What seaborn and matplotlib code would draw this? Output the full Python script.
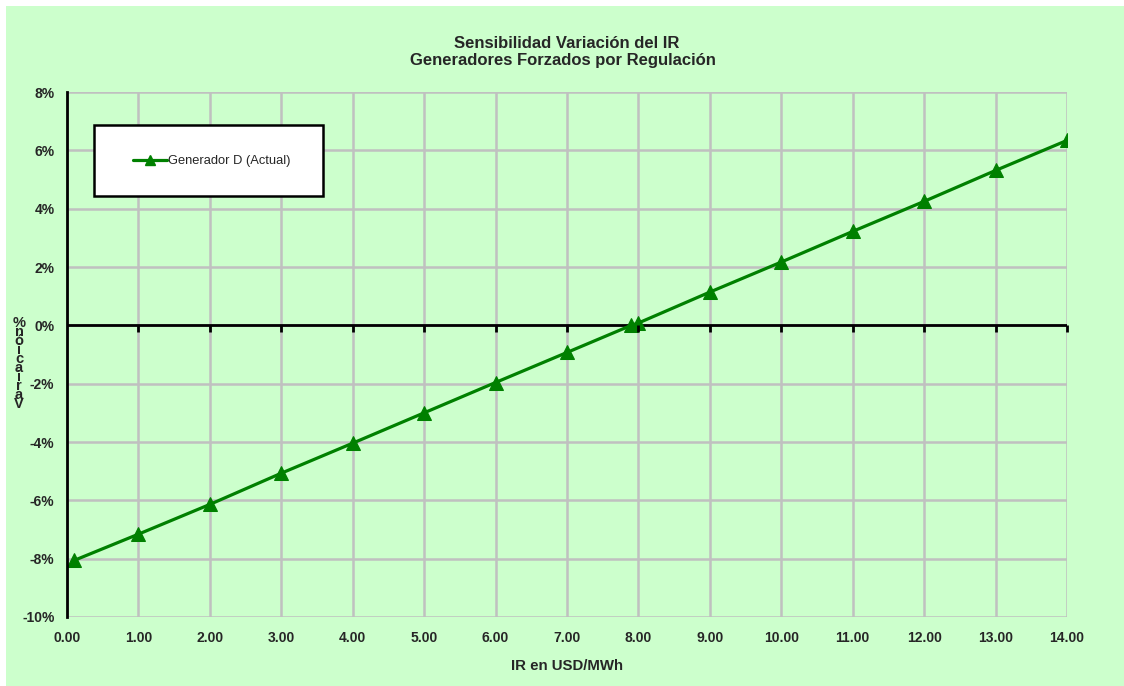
import matplotlib
matplotlib.use("Agg")
import matplotlib.pyplot as plt
import seaborn as sns
import pandas as pd
from matplotlib.patches import Rectangle
from matplotlib.ticker import FuncFormatter, MultipleLocator

sns.set_style("white")
plt.rcParams['font.family'] = ['Liberation Sans', 'DejaVu Sans']

# Data
ir_values = [0.1, 1, 2, 3, 4, 5, 6, 7, 7.9, 8.0, 9, 10, 11, 12, 13, 14]
variacion = [-0.0806, -0.0716, -0.0614, -0.0507, -0.0404, -0.0300, -0.0196, -0.0093,
             0.0000, 0.0008, 0.0114, 0.0217, 0.0322, 0.0425, 0.0531, 0.0634]
series_name = "Generador D (Actual)"
title_lines = ["Sensibilidad Variación del IR", "Generadores Forzados por Regulación"]
xlabel_text = "IR en USD/MWh"
ylabel_text = "Variación %"

df = pd.DataFrame({"IR": ir_values, "Var": variacion, "Serie": series_name})

W, H = 1124, 686
fig = plt.figure(figsize=(W / 100, H / 100), dpi=100)
fig.patch.set_facecolor("white")
bg_green = "#CCFFCC"
fig.patches.append(Rectangle((6 / W, 0), 1 - 6 / W, 1 - 6 / H, transform=fig.transFigure,
                             facecolor=bg_green, edgecolor="none", zorder=-10))

ax = fig.add_axes([67 / W, 1 - 617 / H, 1000 / W, 525 / H])
ax.set_facecolor(bg_green)

sns.lineplot(data=df, x="IR", y="Var", ax=ax, color="#008000", linewidth=2.3,
             marker="^", markersize=10.5, markeredgecolor="#008000", legend=False,
             sort=False, zorder=5)

ax.set_xlim(0, 14)
ax.set_ylim(-0.10, 0.08)
ax.xaxis.set_major_locator(MultipleLocator(1))
ax.yaxis.set_major_locator(MultipleLocator(0.02))
ax.xaxis.set_major_formatter(FuncFormatter(lambda v, p: f"{v:.2f}"))
ax.yaxis.set_major_formatter(FuncFormatter(lambda v, p: f"{round(v * 100):.0f}%"))

ax.grid(True, color="#C0C0C0", linewidth=1.8)
ax.set_axisbelow(True)
for s in ["top", "right", "bottom"]:
    ax.spines[s].set_visible(False)
ax.spines["left"].set_color("black")
ax.spines["left"].set_linewidth(2)
ax.spines["left"].set_zorder(6)

ax.tick_params(axis="y", direction="out", length=5, width=2, color="black",
               labelsize=10, pad=4)
ax.tick_params(axis="x", length=0, labelsize=10, pad=10)
for lab in ax.get_xticklabels() + ax.get_yticklabels():
    lab.set_fontweight("bold")

# Zero axis line with tick marks
ax.axhline(0, color="black", linewidth=2, zorder=4)
sec = ax.secondary_xaxis(0, transform=ax.transData)
sec.set_xticks([t for t in range(1, 15)])
sec.tick_params(axis="x", direction="out", length=5, width=2, color="black", labelbottom=False)
sec.spines["bottom"].set_visible(False)
sec.set_zorder(7)

ax.set_xlabel(xlabel_text, fontsize=10.8, fontweight="bold", labelpad=10)
ax.set_ylabel("")
fig.text(567 / W, 1 - 43 / H, title_lines[0], ha="center", va="center", fontsize=12,
         fontweight="bold")
fig.text(563 / W, 1 - 60 / H, title_lines[1], ha="center", va="center", fontsize=12,
         fontweight="bold")

# Stacked y-label as in the original rendering
stacked = "\n".join(reversed(list(ylabel_text.replace(" ", ""))))
fig.text(19 / W, 1 - 316 / H, stacked, ha="center", va="top", fontsize=10.5,
         fontweight="bold", linespacing=0.55)

# Legend box
fig.patches.append(Rectangle((94 / W, 1 - 196 / H), 229 / W, 71 / H, transform=fig.transFigure,
                             facecolor="white", edgecolor="black", linewidth=1.8, zorder=20))
h, = ax.plot([], [], color="#008000", linewidth=2.3, marker="^", markersize=7)
leg = fig.legend([h], [series_name], loc="center", bbox_to_anchor=(212 / W, 1 - 161 / H),
                 frameon=False, fontsize=9.3, handlelength=2.6, handletextpad=0.1)
leg.set_zorder(21)

fig.savefig("out.png", dpi=100, facecolor="white")
